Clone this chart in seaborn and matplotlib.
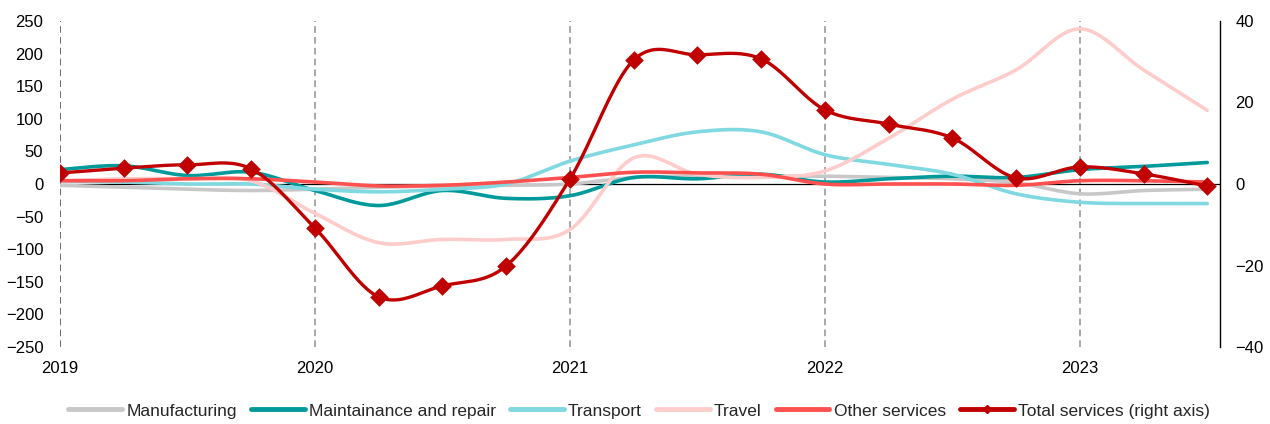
import numpy as np
import pandas as pd
import matplotlib
matplotlib.use("Agg")
import matplotlib.pyplot as plt
import seaborn as sns
from matplotlib.lines import Line2D

sns.set_theme(style="white")
plt.rcParams['font.family'] = ['Liberation Sans', 'DejaVu Sans']

# ---- data (quarterly, 2019Q1 .. 2023Q3) ----
quarters = [2019 + i / 4 for i in range(19)]
manufacturing = [-2, -5, -8, -10, -8, -5, -3, -2, 0, 10, 12, 12, 12, 10, 8, 2, -15, -10, -8]
maintenance = [22, 28, 13, 18, -10, -33, -10, -22, -18, 10, 8, 15, 3, 8, 12, 10, 22, 27, 33]
transport = [5, 3, 0, 0, -8, -12, -8, 0, 35, 60, 80, 80, 45, 30, 15, -15, -28, -30, -30]
travel = [5, 8, 8, 5, -45, -90, -85, -85, -70, 40, 15, 10, 20, 70, 130, 175, 238, 175, 113]
other = [5, 5, 8, 8, 3, -3, -2, 3, 10, 18, 17, 15, 0, 0, 0, -2, 5, 5, 3]
total = [2.7, 3.9, 4.7, 3.7, -10.8, -27.7, -25.0, -20.1, 1.2, 30.4, 31.7, 30.7,
         18.2, 14.7, 11.3, 1.5, 4.2, 2.5, -0.5]
year_ticks = [2019, 2020, 2021, 2022, 2023]
left_ticks = [-250, -200, -150, -100, -50, 0, 50, 100, 150, 200, 250]
right_ticks = [-40, -20, 0, 20, 40]

names = ["Manufacturing", "Maintainance and repair", "Transport", "Travel", "Other services"]
series = [manufacturing, maintenance, transport, travel, other]
colors = ["#c8c8c8", "#009a9a", "#80d8e0", "#ffcccc", "#ff5050"]
total_name = "Total services (right axis)"
total_color = "#c00000"


def smooth(x, y, n=24):
    pts = np.column_stack([x, y]).astype(float)
    P = np.vstack([pts[0], pts, pts[-1]])
    out = []
    t = np.linspace(0, 1, n)[:, None]
    for i in range(1, len(P) - 2):
        p0, p1, p2, p3 = P[i - 1], P[i], P[i + 1], P[i + 2]
        c1 = p1 + (p2 - p0) / 6
        c2 = p2 - (p3 - p1) / 6
        seg = (1 - t) ** 3 * p1 + 3 * (1 - t) ** 2 * t * c1 + 3 * (1 - t) * t ** 2 * c2 + t ** 3 * p2
        out.append(seg if i == 1 else seg[1:])
    s = np.vstack(out)
    return pd.DataFrame({"x": s[:, 0], "y": s[:, 1]})


fig = plt.figure(figsize=(12.7, 4.24), dpi=100)
ax = fig.add_axes([60 / 1270, 1 - 347 / 424, 1160 / 1270, 326 / 424])
ax2 = ax.twinx()

for yr in year_ticks:
    ax.axvline(yr, color="#555555" if yr == 2019 else "#999999", lw=1.2,
               ls=(0, (4, 2.5)), zorder=0)
ax.axhline(0, color="black", lw=0.9, zorder=1)

for name, vals, c in zip(names, series, colors):
    d = smooth(quarters, vals)
    sns.lineplot(data=d, x="x", y="y", ax=ax, color=c, lw=2.6, sort=False,
                 estimator=None, legend=False, zorder=2)

dt = smooth(quarters, total)
sns.lineplot(data=dt, x="x", y="y", ax=ax2, color=total_color, lw=2.4, sort=False,
             estimator=None, legend=False, zorder=3)
sns.scatterplot(x=quarters, y=total, ax=ax2, color=total_color, marker="D", s=90,
                edgecolor=total_color, linewidth=0, zorder=4, legend=False)

ax.set_xlim(2019, 2019 + 18.2 / 4)
ax.set_ylim(-250, 250)
ax2.set_ylim(-40, 40)
ax.set_xticks(year_ticks)
ax.set_xticklabels([str(y) for y in year_ticks])
ax.set_yticks(left_ticks)
ax2.set_yticks(right_ticks)
ax.set_xlabel("")
ax.set_ylabel("")
ax2.set_xlabel("")
ax2.set_ylabel("")

for a in (ax, ax2):
    for s in a.spines.values():
        s.set_visible(False)
    a.tick_params(axis="both", length=0, labelsize=12, colors="black")
    a.grid(False)
ax2.spines["right"].set_visible(True)
ax2.spines["right"].set_color("black")
ax2.spines["right"].set_linewidth(1.0)
ax.tick_params(axis="x", pad=10)
ax.tick_params(axis="y", pad=12)
ax2.tick_params(axis="y", pad=11)

handles = [Line2D([], [], color=c, lw=3.5) for c in colors]
handles.append(Line2D([], [], color=total_color, lw=3.5, marker="D", markersize=4))
fig.legend(handles, names + [total_name], loc="center", bbox_to_anchor=(639 / 1270, 1 - 411 / 424),
           ncol=6, frameon=False, fontsize=12.5, handlelength=3.1, handletextpad=0.25,
           columnspacing=0.8)

fig.savefig("out.png", dpi=100)
